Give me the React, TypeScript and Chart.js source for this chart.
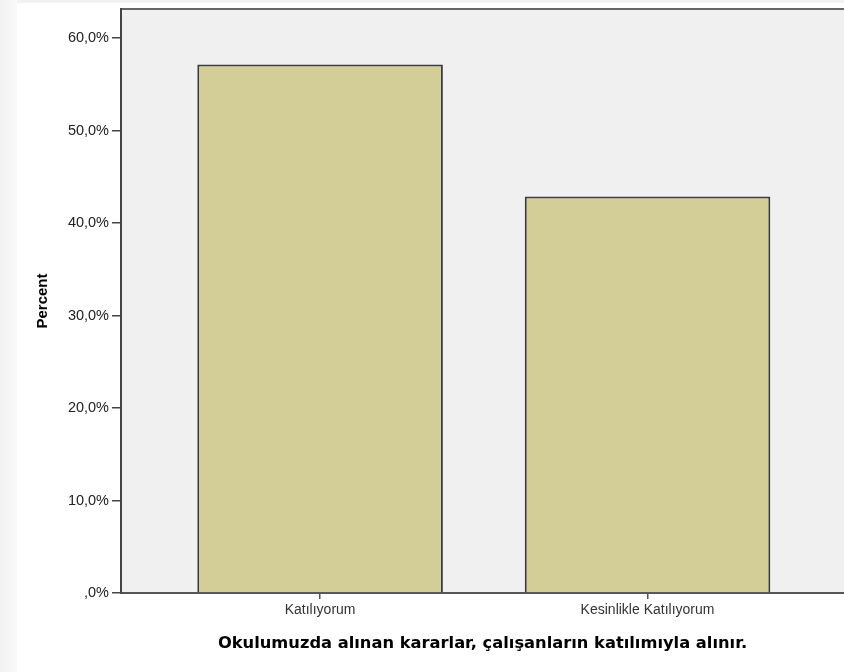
import React, { useEffect, useRef } from "react";
import { Chart, registerables } from "chart.js";

Chart.register(...registerables);

const categories = ["Katılıyorum", "Kesinlikle Katılıyorum"];
const percentValues = [57.14, 42.86];
const yTickValues = [0, 10, 20, 30, 40, 50, 60];
const yMax = 63.14;
const xMin = 0.392;
const xMax = 2.6;
const xTitle = "Okulumuzda alınan kararlar, çalışanların katılımıyla alınır.";
const yTitle = "Percent";

const formatPct = (v: number) =>
  v === 0 ? ",0%" : v.toFixed(1).replace(".", ",") + "%";

const bgPlugin = {
  id: "bgPlugin",
  beforeDraw(chart: any) {
    const { ctx, width, height, chartArea } = chart;
    ctx.save();
    ctx.fillStyle = "#ffffff";
    ctx.fillRect(0, 0, width, height);
    const g = ctx.createLinearGradient(0, 0, 17, 0);
    g.addColorStop(0, "#f1f1f1");
    g.addColorStop(1, "#fafafa");
    ctx.fillStyle = g;
    ctx.fillRect(0, 0, 17, height);
    ctx.fillStyle = "#f2f2f2";
    ctx.fillRect(17, 0, width - 17, 3);
    ctx.fillStyle = "#f0f0f0";
    ctx.fillRect(
      chartArea.left,
      chartArea.top,
      chartArea.right - chartArea.left,
      chartArea.bottom - chartArea.top
    );
    ctx.strokeStyle = "#666666";
    ctx.lineWidth = 2;
    ctx.beginPath();
    ctx.moveTo(chartArea.left, chartArea.top);
    ctx.lineTo(chartArea.right, chartArea.top);
    ctx.stroke();
    ctx.restore();
  },
};

export default function App() {
  const canvasRef = useRef<HTMLCanvasElement | null>(null);

  useEffect(() => {
    if (!canvasRef.current) return;
    const chart = new Chart(canvasRef.current, {
      type: "bar",
      data: {
        datasets: [
          {
            data: percentValues.map((v, i) => ({ x: i + 1, y: v })),
            backgroundColor: "#D3CE98",
            borderColor: "#3c3c3c",
            borderWidth: 2,
            categoryPercentage: 1,
            barPercentage: 0.75,
          } as any,
        ],
      },
      options: {
        animation: false,
        responsive: true,
        maintainAspectRatio: false,
        layout: {
          autoPadding: false,
          padding: { top: 9, left: 0, right: 0, bottom: 0 },
        } as any,
        plugins: {
          legend: { display: false },
          tooltip: { enabled: false },
        },
        scales: {
          x: {
            type: "linear",
            offset: false,
            min: xMin,
            max: xMax,
            afterBuildTicks: (scale: any) => {
              scale.ticks = categories.map((_, i) => ({ value: i + 1 }));
            },
            afterFit: (scale: any) => {
              scale.height = 79;
              scale.paddingLeft = 0;
              scale.paddingRight = 0;
            },
            ticks: {
              autoSkip: false,
              maxRotation: 0,
              padding: 3,
              color: "#333333",
              font: { family: "'Liberation Sans', Arial, sans-serif", size: 14 },
              callback: (v: any) => categories[Number(v) - 1] ?? "",
            },
            grid: {
              offset: false,
              drawOnChartArea: false,
              drawTicks: true,
              tickLength: 6,
              color: "#555555",
              lineWidth: 1.5,
            },
            border: { display: true, color: "#555555", width: 2 },
            title: {
              display: true,
              text: xTitle,
              color: "#000000",
              font: { family: "'DejaVu Sans', Verdana, sans-serif", size: 16.3, weight: "bold" },
              padding: { top: 4, bottom: 18 },
            },
          },
          y: {
            type: "linear",
            min: 0,
            max: yMax,
            afterBuildTicks: (scale: any) => {
              scale.ticks = yTickValues.map((v) => ({ value: v }));
            },
            afterFit: (scale: any) => {
              scale.width = 121;
              scale.paddingTop = 0;
              scale.paddingBottom = 0;
            },
            ticks: {
              padding: 3,
              color: "#222222",
              font: { family: "'Liberation Sans', Arial, sans-serif", size: 14.5 },
              callback: (v: any) => formatPct(Number(v)),
            },
            grid: {
              drawOnChartArea: false,
              drawTicks: true,
              tickLength: 9,
              color: "#444444",
              lineWidth: 1.5,
            },
            border: { display: true, color: "#444444", width: 2 },
            title: {
              display: true,
              text: yTitle,
              color: "#000000",
              font: { family: "'Liberation Sans', Arial, sans-serif", size: 15, weight: "bold" },
              padding: { top: 34, bottom: 0 },
            },
          },
        },
      },
      plugins: [bgPlugin],
    } as any);
    return () => chart.destroy();
  }, []);

  return (
    <div
      style={{
        position: "absolute",
        left: 0,
        top: 0,
        width: 844,
        height: 672,
      }}
    >
      <canvas ref={canvasRef} />
    </div>
  );
}
